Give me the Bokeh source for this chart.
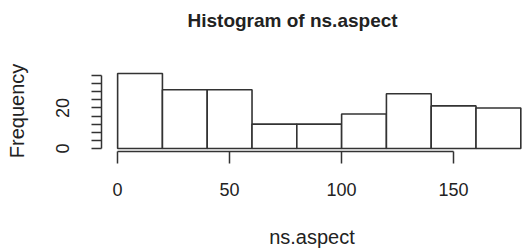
from bokeh.plotting import figure
from bokeh.models import Range1d, FixedTicker, LinearAxis, Title
from bokeh.embed import file_html
from bokeh.resources import INLINE

# Data
breaks = [0, 20, 40, 60, 80, 100, 120, 140, 160, 180]
counts = [37, 29, 29, 12, 12, 17, 27, 21, 20]
x_ticks = [0, 50, 100, 150]
y_major = [0, 20]
y_minor = [4, 8, 12, 16, 24, 28, 32, 36]
title_text = "Histogram of ns.aspect"
x_label = "ns.aspect"
y_label = "Frequency"

left = breaks[:-1]
right = breaks[1:]

FONT = "Liberation Sans"
TXT = "#222222"
LINE = "#333333"

p = figure(width=522, height=250, output_backend="svg", toolbar_location=None,
           x_range=Range1d(-7.2, 180.75), y_range=Range1d(-1.48, 38.46),
           x_axis_type=None, y_axis_type=None,
           min_border_left=101, min_border_right=0, min_border_top=70, min_border_bottom=99)
p.outline_line_color = None
p.xgrid.visible = False
p.ygrid.visible = False
p.background_fill_color = "white"
p.border_fill_color = "white"

p.quad(left=left, right=right, bottom=0, top=counts, fill_color="white",
       line_color=LINE, line_width=1.6)

xa = LinearAxis(ticker=FixedTicker(ticks=x_ticks), bounds=(0, 150))
xa.axis_label = x_label
ya = LinearAxis(ticker=FixedTicker(ticks=y_major, minor_ticks=y_minor), bounds=(0, 36))
ya.axis_label = y_label

for ax in (xa, ya):
    ax.axis_line_color = LINE
    ax.axis_line_width = 1.5
    ax.major_tick_line_color = LINE
    ax.major_tick_line_width = 1.5
    ax.major_tick_in = 0
    ax.major_label_text_font = FONT
    ax.major_label_text_font_size = "18px"
    ax.major_label_text_color = TXT
    ax.axis_label_text_font = FONT
    ax.axis_label_text_font_size = "20px"
    ax.axis_label_text_font_style = "normal"
    ax.axis_label_text_color = TXT

xa.major_tick_out = 12
xa.minor_tick_line_color = None
xa.major_label_standoff = 19
xa.axis_label_standoff = 27

ya.major_tick_out = 10
ya.minor_tick_out = 10
ya.minor_tick_in = 0
ya.minor_tick_line_color = LINE
ya.minor_tick_line_width = 1.5
ya.major_label_orientation = "vertical"
ya.major_label_standoff = 22
ya.axis_label_standoff = 26

p.add_layout(xa, "below")
p.add_layout(ya, "left")

p.title.text = ""
# blank spacer title nearest the frame, so the real title sits higher
spacer = Title(text=" ", text_font=FONT, text_font_size="10px", standoff=27)
p.add_layout(spacer, "above")
t = Title(text=title_text, text_font=FONT, text_font_size="19px", text_font_style="bold",
          text_color=TXT, align="left", offset=86, standoff=0, vertical_align="bottom")
p.add_layout(t, "above")

open("out.html", "w").write(file_html(p, INLINE))
